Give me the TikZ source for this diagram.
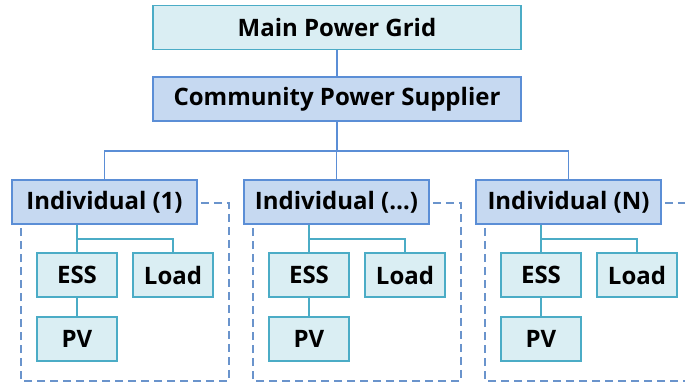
\documentclass[tikz,border=0pt]{standalone}
\usepackage{fontspec}
\setmainfont{Open Sans}
\usetikzlibrary{calc}

\definecolor{gridfill}{HTML}{DAEEF3}
\definecolor{gridline}{HTML}{4BACC6}
\definecolor{supfill}{HTML}{C6D9F1}
\definecolor{supline}{HTML}{5B8ED6}
\definecolor{dashline}{HTML}{6A94CC}

\begin{document}
\begin{tikzpicture}[x=1pt, y=-1pt,
    box/.style={draw, line width=1.8pt, minimum height=44pt, inner sep=0pt, font=\bfseries\fontsize{24}{28}\selectfont},
    gridbox/.style={box, draw=gridline, fill=gridfill},
    supbox/.style={box, draw=supline, fill=supfill},
    devbox/.style={gridbox, minimum width=80pt},
    upline/.style={draw=supline, line width=1.8pt},
    lowline/.style={draw=gridline, line width=1.8pt},
    groupline/.style={draw=dashline, line width=1.8pt, dash pattern=on 8pt off 5pt}]
    \useasboundingbox (0,0) rectangle (685,386);

    \node[gridbox, minimum width=368pt] (main) at (337,27.5) {Main Power Grid};
    \node[supbox,  minimum width=368pt] (cps)  at (337,99)   {Community Power Supplier};
    \draw[upline] (main) -- (cps);
    \coordinate (bus) at (337,151);
    \draw[upline] (cps) -- (bus);

    \foreach \i/\name/\lbl in {0/a/1,1/b/\dots,2/c/N} {
        \pgfmathsetmacro{\xo}{12+232*\i}
        \node[supbox, minimum width=185pt] (ind\name) at ({\xo+92.5},202) {Individual (\lbl)};
        \node[devbox] (ess\name)  at ({\xo+65},275)  {ESS};
        \node[devbox] (load\name) at ({\xo+161},275) {Load};
        \node[devbox] (pv\name)   at ({\xo+65},339)  {PV};
        \draw[upline] (ind\name.north) |- (bus);
        \draw[lowline] (ess\name.north |- ind\name.south) -- (ess\name.north);
        \draw[lowline] (ess\name.center |- 0,239) -| (load\name.north);
        \draw[lowline] (ess\name) -- (pv\name);
        \draw[groupline] ($(ind\name.east)+(3,1)$) -| ({\xo+217},381) -| ({\xo+9},224);
    }
\end{tikzpicture}
\end{document}
